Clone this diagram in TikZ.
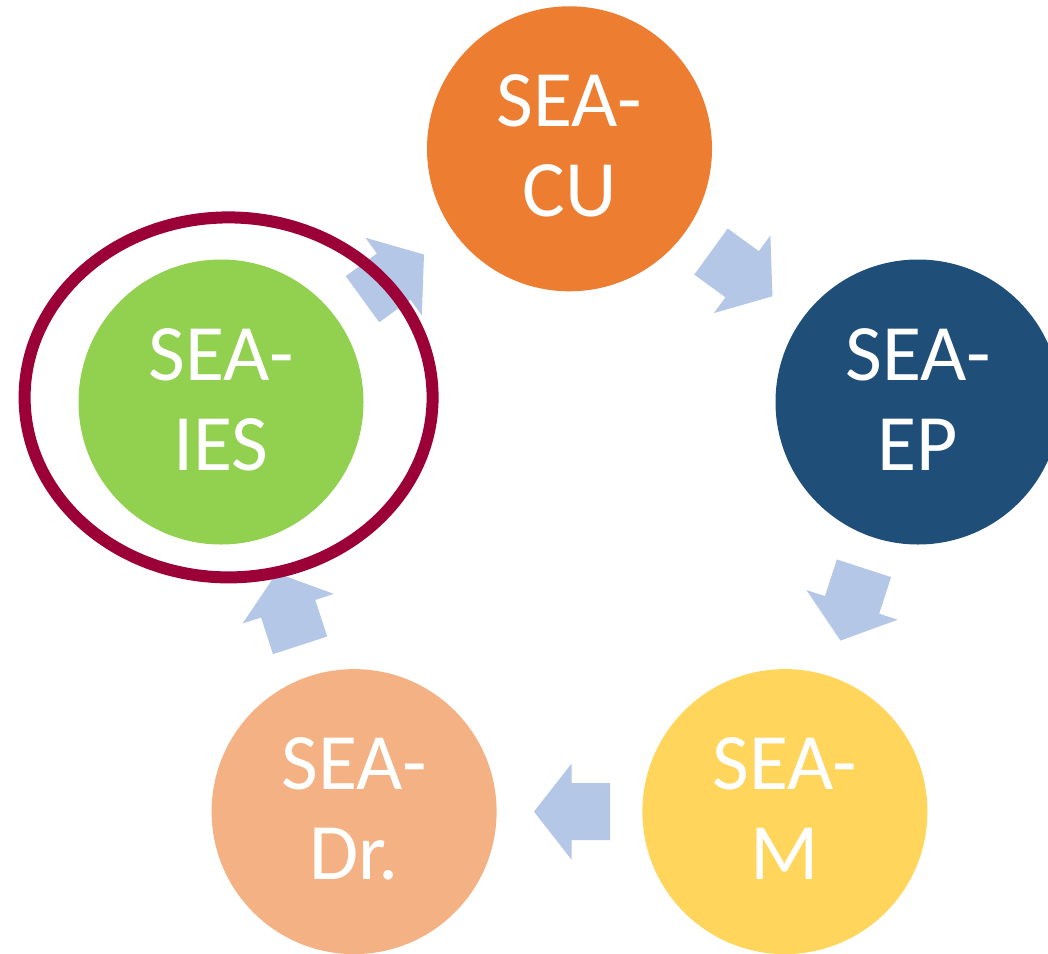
\documentclass[tikz,border=0pt]{standalone}
\usepackage{fontspec}
\setmainfont{Carlito}
\usetikzlibrary{calc,shapes.geometric}
\definecolor{cuC}{HTML}{ED7D31}
\definecolor{epC}{HTML}{1F4E79}
\definecolor{mC}{HTML}{FFD55B}
\definecolor{drC}{HTML}{F4B183}
\definecolor{iesC}{HTML}{92D050}
\definecolor{arrC}{HTML}{B4C7E7}
\definecolor{ringC}{HTML}{9B0036}
\tikzset{
  stage/.style={circle, inner sep=0pt, minimum size=285pt},
  lbl/.style={text=white, inner sep=0pt, anchor=base, font=\fontsize{80}{90}\selectfont},
  arr/.style={fill=arrC},
}
\newcommand{\cycarrow}[2]{%
  \coordinate (m#1#2) at ($(#1.center)!0.5!(#2.center)$);
  \coordinate (t#1#2) at ($(m#1#2)!-40.5pt!(#2.center)$);
  \coordinate (h#1#2) at ($(m#1#2)!-2pt!(#2.center)$);
  \coordinate (p#1#2) at ($(m#1#2)!35.5pt!(#2.center)$);
  \fill[arr] ($(t#1#2)!28.5pt!90:(#2.center)$) -- ($(h#1#2)!28.5pt!90:(#2.center)$)
    -- ($(h#1#2)!48pt!90:(#2.center)$) -- (p#1#2)
    -- ($(h#1#2)!48pt!-90:(#2.center)$) -- ($(h#1#2)!28.5pt!-90:(#2.center)$)
    -- ($(t#1#2)!28.5pt!-90:(#2.center)$) -- cycle;
}
\newcommand{\stagetext}[3]{%
  \node[lbl] (#1a) at ([yshift=22pt]#1.center) {#2};
  \node[lbl] (#1b) at ([yshift=-68pt]#1.center) {#3};
}
\begin{document}
\begin{tikzpicture}[x=1pt,y=-1pt]
\useasboundingbox (0,0) rectangle (1048,953);
\clip (0,0) rectangle (1048,953);
\node[stage, fill=cuC] (cu) at (569.5,148.8) {};
\node[stage, fill=epC] (ep) at (918.0,402.0) {};
\node[stage, fill=mC] (m) at (784.9,811.6) {};
\node[stage, fill=drC] (dr) at (354.1,811.6) {};
\node[stage, fill=iesC] (ies) at (221.0,402.0) {};
\cycarrow{ies}{cu}
\cycarrow{cu}{ep}
\cycarrow{ep}{m}
\cycarrow{m}{dr}
\cycarrow{dr}{ies}
\stagetext{cu}{SEA-}{CU}
\stagetext{ep}{SEA-}{EP}
\stagetext{m}{SEA-}{M}
\stagetext{dr}{SEA-}{Dr.}
\stagetext{ies}{SEA-}{IES}
\node[draw=ringC, ellipse, line width=12pt, inner sep=0pt, minimum width=408pt, minimum height=360pt] (ring) at (228.6,397.4) {};
\end{tikzpicture}
\end{document}
